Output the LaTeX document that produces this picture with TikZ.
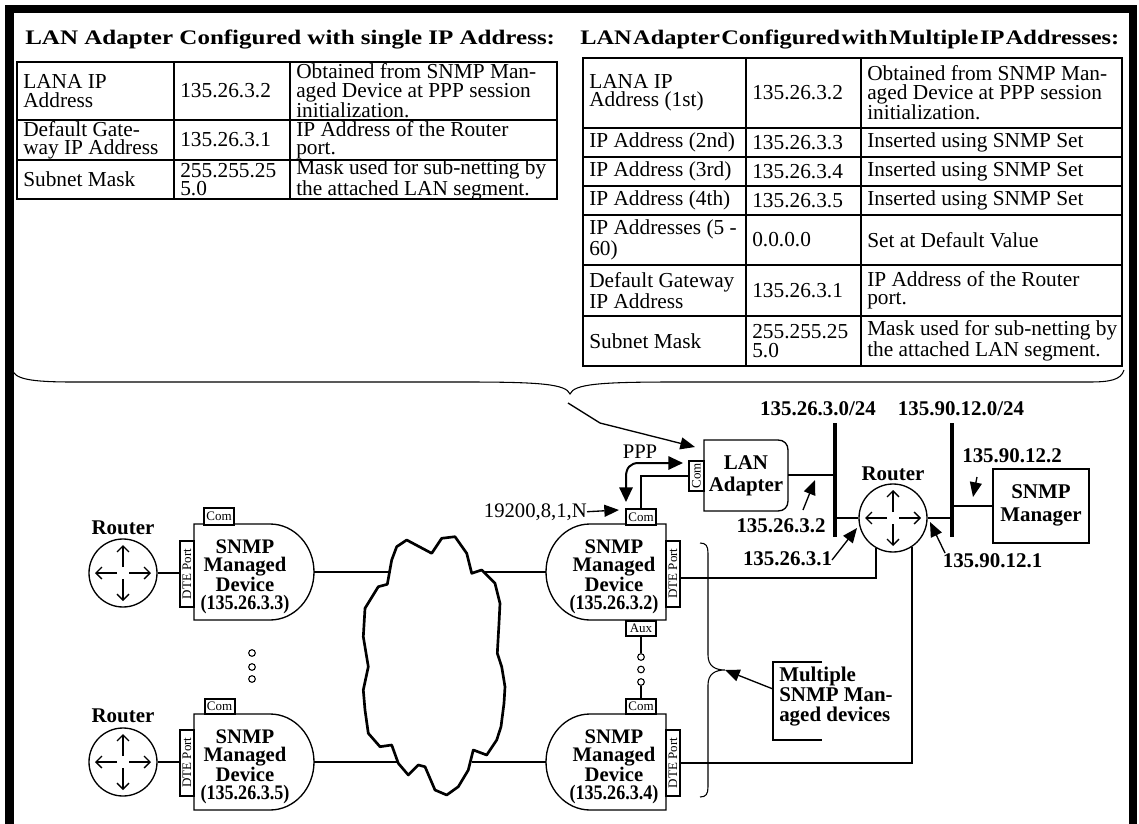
\documentclass[tikz,border=0pt]{standalone}
\usepackage{fontspec}
\setmainfont{Liberation Serif}
\usepackage{graphicx}
\usetikzlibrary{arrows.meta}
\newcommand{\cnd}[1]{\scalebox{0.875}[1]{#1}}
\begin{document}
\begin{tikzpicture}[x=0.75pt,y=-0.75pt,
  tl/.style={line width=1.5pt},
  cell/.style={inner sep=0pt, anchor=west, align=left, font=\fontsize{16pt}{13.8pt}\selectfont},
  ttl/.style={inner sep=0pt, anchor=base west, font=\fontsize{15.5pt}{18pt}\selectfont\bfseries},
  lbl/.style={inner sep=0pt, anchor=base, font=\fontsize{15.7pt}{13.2pt}\selectfont\bfseries},
  mlbl/.style={inner sep=0pt, align=center, font=\fontsize{15.5pt}{13.5pt}\selectfont\bfseries},
  rlbl/.style={inner sep=0pt, font=\fontsize{15.5pt}{13pt}\selectfont},
  dev/.style={line width=1pt, fill=white},
  port/.style={draw, line width=1.5pt, fill=white, inner sep=0pt, font=\fontsize{9.75pt}{10pt}\selectfont},
  router/.style={circle, draw, line width=1pt, minimum size=51pt, inner sep=0pt},
  rarr/.style={line width=1pt, -{Straight Barb[length=4.5pt,width=9pt]}},
  conn/.style={line width=1.5pt},
  fa/.style={-{Triangle[length=11pt,width=9pt]}},
  thinl/.style={line width=1pt},
  bar/.style={line width=2.4pt},
  brace/.style={line width=0.8pt},
  dot/.style={circle, draw, line width=0.8pt, minimum size=5pt, inner sep=0pt},
]
\useasboundingbox (0,0) rectangle (1139,824);
\clip (0,0) rectangle (1139,824);
% frame
\draw[line width=6.4pt] (9.5,9) rectangle (1133,880);

% ---------- left table ----------
\node[ttl] (t1) at (25,45) {\scalebox{1.21}[1]{LAN Adapter Configured with single IP Address:}};
\draw[tl] (17,62) rectangle (557,199);
\draw[tl] (174,62) -- (174,199);
\draw[tl] (290,62) -- (290,199);
\draw[tl] (17,120) -- (557,120);
\draw[tl] (17,160) -- (557,160);
\node[cell] (a11) at (23,91) {LANA IP\\Address};
\node[cell] (a12) at (180,91) {135.26.3.2};
\node[cell] (a13) at (296,91) {Obtained from SNMP Man-\\aged Device at PPP session\\initialization.};
\node[cell] (a21) at (23,140) {Default Gate-\\way IP Address};
\node[cell] (a22) at (180,140) {135.26.3.1};
\node[cell] (a23) at (296,140) {IP Address of the Router\\port.};
\node[cell] (a31) at (23,179.5) {Subnet Mask};
\node[cell] (a32) at (180,179.5) {255.255.25\\5.0};
\node[cell] (a33) at (296,179.5) {Mask used for sub-netting by\\the attached LAN segment.};

% ---------- right table ----------
\node[ttl] (t2) at (580,45) {\scalebox{1.18}[1]{\spaceskip=0.06em\relax LAN Adapter Configured with Multiple IP Addresses:}};
\draw[tl] (583,58) rectangle (1122,366);
\draw[tl] (746,58) -- (746,366);
\draw[tl] (861,58) -- (861,366);
\foreach \yy in {128,157,186,215,265,316} {\draw[tl] (583,\yy) -- (1122,\yy);}
\node[cell] (b11) at (589,93) {LANA IP\\Address (1st)};
\node[cell] (b12) at (752,93) {135.26.3.2};
\node[cell] (b13) at (867,93) {Obtained from SNMP Man-\\aged Device at PPP session\\initialization.};
\node[cell] (b21) at (589,142.5) {IP Address (2nd)};
\node[cell] (b22) at (752,142.5) {135.26.3.3};
\node[cell] (b23) at (867,142.5) {Inserted using SNMP Set};
\node[cell] (b31) at (589,171.5) {IP Address (3rd)};
\node[cell] (b32) at (752,171.5) {135.26.3.4};
\node[cell] (b33) at (867,171.5) {Inserted using SNMP Set};
\node[cell] (b41) at (589,200.5) {IP Address (4th)};
\node[cell] (b42) at (752,200.5) {135.26.3.5};
\node[cell] (b43) at (867,200.5) {Inserted using SNMP Set};
\node[cell] (b51) at (589,240) {IP Addresses (5 -\\60)};
\node[cell] (b52) at (752,240) {0.0.0.0};
\node[cell] (b53) at (867,240) {Set at Default Value};
\node[cell] (b61) at (589,290.5) {Default Gateway\\IP Address};
\node[cell] (b62) at (752,290.5) {135.26.3.1};
\node[cell] (b63) at (867,290.5) {IP Address of the Router\\port.};
\node[cell] (b71) at (589,341) {Subnet Mask};
\node[cell] (b72) at (752,341) {255.255.25\\5.0};
\node[cell] (b73) at (867,341) {Mask used for sub-netting by\\the attached LAN segment.};

% ---------- big brace ----------
\coordinate (bt) at (570,394);
\draw[brace] (12,369) .. controls (14,379) and (30,382) .. (73,382) -- (465,382)
  .. controls (540,382) and (566,384) .. (bt)
  .. controls (574,384) and (600,382) .. (675,382) -- (1089,382)
  .. controls (1110,382) and (1121,380) .. (1124,370);

% ---------- routers ----------
\node[router] (r1) at (123,573) {};
\node[router] (r2) at (123,762) {};
\node[router] (r3) at (893,518) {};
\foreach \r in {r1,r2,r3} {
  \draw[rarr] (\r.center) ++(6,0) -- ++(22,0);
  \draw[rarr] (\r.center) ++(-6,0) -- ++(-22,0);
  \draw[rarr] (\r.center) ++(0,6) -- ++(0,22);
  \draw[rarr] (\r.center) ++(0,-6) -- ++(0,-22);
}
\node[lbl] (r1l) at (123,534) {Router};
\node[lbl] (r2l) at (123,722) {Router};
\node[lbl] (r3l) at (893,480) {Router};

% ---------- connectors behind cloud ----------
\coordinate (d1r) at (314,572);
\coordinate (d2r) at (314,762);
\coordinate (d3l) at (546,572);
\coordinate (d4l) at (546,762);
\coordinate (k1) at (392,572);
\coordinate (k2) at (480,572);
\coordinate (k3) at (398,762);
\coordinate (k4) at (472,762);
\draw[conn] (d1r) -- (k1);
\draw[conn] (k2) -- (d3l);
\draw[conn] (d2r) -- (k3);
\draw[conn] (k4) -- (d4l);

% ---------- cloud ----------
\draw[line width=2pt, fill=white, line join=round] (406.7,540) -- (431.7,553.3) -- (441.7,538.3) -- (455,536.7)
 -- (466.7,553.3) -- (471.7,573.3) -- (481.7,570) -- (495,583.3) -- (500,603.3) -- (499,623.3)
 -- (497.3,653.3) -- (501.7,666.7) -- (505,686.7) -- (504,703.3) -- (501,726.7) -- (496.7,740)
 -- (486.7,755) -- (473.3,750) -- (468.3,770) -- (458.3,786.7) -- (446.7,795) -- (435,790)
 -- (425,766.7) -- (418.3,765) -- (408.3,775) -- (398.3,763.3) -- (391.7,745) -- (380,746.7)
 -- (368.3,733.3) -- (365,710) -- (363.3,690) -- (368.3,666.7) -- (363.3,636.7) -- (365,608.3)
 -- (378.3,586.7) -- (387.3,584.3) -- (391.7,560) -- (396.7,546.7) -- cycle;

% ---------- devices ----------
\draw[dev] (194,524) -- (270,524) .. controls (294.3,524) and (314,545.5) .. (314,572)
  .. controls (314,598.5) and (294.3,620) .. (270,620) -- (194,620) -- cycle;
\draw[dev] (194,714) -- (270,714) .. controls (294.3,714) and (314,735.5) .. (314,762)
  .. controls (314,788.5) and (294.3,810) .. (270,810) -- (194,810) -- cycle;
\draw[dev] (666,524) -- (590,524) .. controls (565.7,524) and (546,545.5) .. (546,572)
  .. controls (546,598.5) and (565.7,620) .. (590,620) -- (666,620) -- cycle;
\draw[dev] (666,714) -- (590,714) .. controls (565.7,714) and (546,735.5) .. (546,762)
  .. controls (546,788.5) and (565.7,810) .. (590,810) -- (666,810) -- cycle;
\node[mlbl] (d1) at (245,577) {SNMP\\Managed\\Device\\\cnd{(135.26.3.3)}};
\node[mlbl] (d2) at (245,767) {SNMP\\Managed\\Device\\\cnd{(135.26.3.5)}};
\node[mlbl] (d3) at (614,577) {SNMP\\Managed\\Device\\\cnd{(135.26.3.2)}};
\node[mlbl] (d4) at (614,767) {SNMP\\Managed\\Device\\\cnd{(135.26.3.4)}};

% ports
\node[port, rotate=90, minimum width=49.5pt, minimum height=10.5pt] (p1) at (187,574) {DTE Port};
\node[port, rotate=90, minimum width=49.5pt, minimum height=10.5pt] (p2) at (187,762.5) {DTE Port};
\node[port, rotate=90, minimum width=49.5pt, minimum height=10.5pt] (p3) at (673,573.5) {DTE Port};
\node[port, rotate=90, minimum width=49.5pt, minimum height=10.5pt] (p4) at (673,763) {DTE Port};
\node[port, minimum width=22.5pt, minimum height=12.5pt] (c1) at (219,516.5) {Com};
\node[port, minimum width=22.5pt, minimum height=11.5pt] (c2) at (219.5,706.5) {Com};
\node[port, minimum width=22.5pt, minimum height=12pt] (c3) at (641,517) {Com};
\node[port, minimum width=22.5pt, minimum height=11.5pt] (c4) at (641,706.5) {Com};
\node[port, minimum width=22.5pt, minimum height=11.5pt] (a3) at (641,628.5) {Aux};

\draw[conn] (r1.east) -- (r1.east -| p1.north);
\draw[conn] (r2.east) -- (r2.east -| p2.north);

% dots
\node[dot] (o1) at (252,653) {};
\node[dot] (o2) at (252,667) {};
\node[dot] (o3) at (252,679) {};
\node[dot] (o4) at (641,657) {};
\node[dot] (o5) at (641,669.5) {};
\node[dot] (o6) at (641,682) {};
\draw[conn] (a3.south) -- (o4.north);
\draw[conn] (o6.south) -- (c4.north);

% ---------- LAN adapter ----------
\draw[line width=1pt, fill=white] (704,440) -- (778,440) .. controls (784,440) and (788,444) .. (788,450)
  -- (788,501) .. controls (788,507) and (784,511) .. (778,511) -- (704,511) -- cycle;
\node[mlbl, font=\fontsize{15.7pt}{16.3pt}\selectfont\bfseries] (lana) at (746,476) {LAN\\Adapter};
\node[port, rotate=90, minimum width=22.5pt, minimum height=11pt] (c5) at (696.5,476) {Com};
\draw[conn] (c3.north) |- (c5.north);

% PPP
\node[rlbl, anchor=base] (ppp) at (640,458) {PPP};
\coordinate (pppa) at (626,502);
\coordinate (pppb) at (683,463);
\draw[conn, {Triangle[length=11pt,width=10pt]}-{Triangle[length=11pt,width=10pt]}] (pppa) -- (626,477)
  .. controls (626,468) and (630,463) .. (639,463) -- (pppb);
\node[rlbl, anchor=base east] (baud) at (587,517) {19200,8,1,N};
\coordinate (bauda) at (619,510);
\draw[thinl, fa] (baud.east) -- (bauda);

% brace arrow
\coordinate (bs) at (568,403);
\coordinate (la) at (695,447);
\draw[thinl, fa] (bs) -- (600,423) -- (la);

% ---------- LAN segments ----------
\coordinate (b1t) at (835,423);
\coordinate (b1b) at (835,537);
\coordinate (b2t) at (952,423);
\coordinate (b2b) at (952,537);
\draw[bar] (b1t) -- (b1b);
\draw[bar] (b2t) -- (b2b);
\coordinate (lanr) at (788,475);
\draw[conn] (lanr) -- (lanr -| b1t);
\draw[conn] (r3.west) -- (r3.west -| b1t);
\draw[conn] (r3.east) -- (r3.east -| b2t);

\node[draw, line width=1.9pt, minimum width=72pt, minimum height=55.5pt, inner sep=0pt] (mgr) at (1041,506) {};
\node[mlbl, font=\fontsize{15.7pt}{17pt}\selectfont\bfseries] (mgrt) at (1041,505.5) {SNMP\\Manager};
\draw[conn] (mgr.west) -- (mgr.west -| b2t);

\coordinate (p3o) at (680,578);
\draw[conn] (p3o) -| (r3.240);
\draw[conn] (p4.south) -| (r3.-57);

% labels
\node[lbl] (n1) at (818,415) {135.26.3.0/24};
\node[lbl] (n2) at (961,415) {135.90.12.0/24};
\node[lbl] (n3) at (1012,462) {135.90.12.2};
\node[lbl] (n4) at (781,532) {135.26.3.2};
\node[lbl] (n5) at (787.5,565) {135.26.3.1};
\node[lbl] (n6) at (992.5,567) {135.90.12.1};
\coordinate (n3s) at (977,477);  \coordinate (n3e) at (973,497);
\coordinate (n4s) at (803,510);  \coordinate (n4e) at (815,480);
\coordinate (n5s) at (832,560);  \coordinate (n5e) at (857,528);
\coordinate (n6s) at (945,553);  \coordinate (n6e) at (930,522);
\draw[thinl, fa] (n3s) -- (n3e);
\draw[thinl, fa] (n4s) -- (n4e);
\draw[thinl, fa] (n5s) -- (n5e);
\draw[thinl, fa] (n6s) -- (n6e);

% ---------- right brace and multiple box ----------
\coordinate (rt) at (725,670);
\draw[brace] (700,543) .. controls (706,543) and (708,546) .. (708,553) -- (708,655)
  .. controls (708,666) and (715,670) .. (rt)
  .. controls (715,670) and (708,674) .. (708,685) -- (708,787)
  .. controls (708,794) and (706,797) .. (700,797);
\draw[line width=1.9pt] (822,662) -- (773,662) -- (773,740) -- (822,740);
\node[inner sep=0pt, anchor=west, align=left, font=\fontsize{15.7pt}{15pt}\selectfont\bfseries] (mul) at (779,697) {Multiple\\SNMP Man-\\aged devices};
\coordinate (muls) at (773,689);
\draw[thinl, fa] (muls) -- (rt);
\end{tikzpicture}
\end{document}
